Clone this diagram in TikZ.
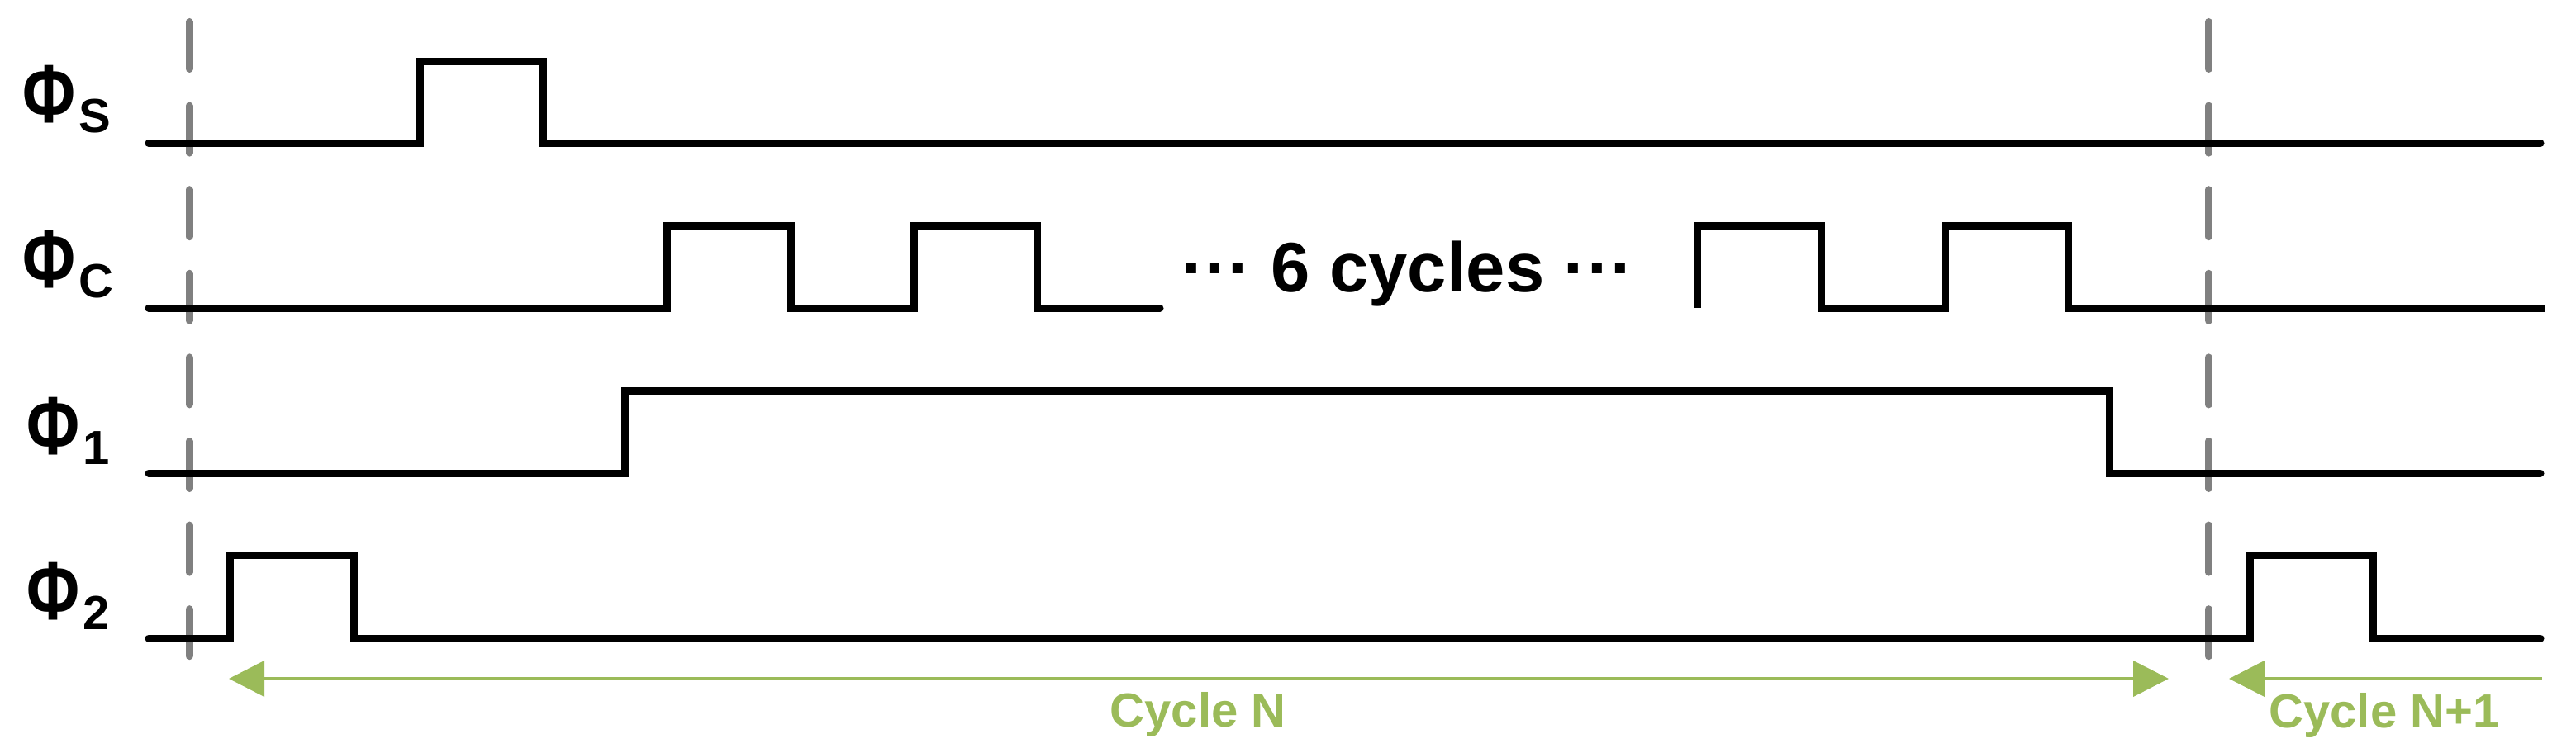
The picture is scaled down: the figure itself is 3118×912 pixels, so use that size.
\documentclass[tikz,border=0pt]{standalone}
\usepackage{fontspec}
\setmainfont{Liberation Sans}
\usetikzlibrary{arrows.meta}
\definecolor{dgray}{HTML}{808080}
\definecolor{cgreen}{HTML}{9BBB59}
\newcommand{\philabel}[1]{\fontsize{82}{90}\selectfont\bfseries \scalebox{0.95}[1.22]{\symbol{"03A6}}\kern4pt\raisebox{-12pt}{\fontsize{58}{60}\selectfont #1}}
\begin{document}
\begin{tikzpicture}[x=1pt,y=-1pt,
  wave/.style={line width=9pt, line cap=round, line join=miter},
  guide/.style={line width=9pt, draw=dgray, line cap=round, dash pattern=on 57pt off 44.6pt},
  spanarrow/.style={line width=4pt, draw=cgreen},
  lbl/.style={inner sep=0pt, anchor=base west},
  ctext/.style={inner sep=0pt, anchor=base, text=cgreen, font=\fontsize{58}{64}\selectfont\bfseries},
  mtext/.style={inner sep=0pt, anchor=base, font=\fontsize{85}{96}\selectfont\bfseries}]
\useasboundingbox (0,0) rectangle (3118,912);

% labels
\node[lbl] (ls) at (27,149) {\philabel{S}};
\node[lbl] (lc) at (27,348) {\philabel{C}};
\node[lbl] (l1) at (32,550) {\philabel{1}};
\node[lbl] (l2) at (32,750) {\philabel{2}};

% guides
\draw[guide] (229,26.5) -- (229,795);
\draw[guide] (2673,26.5) -- (2673,795);

% Phi S
\draw[wave] (180,173.5) -- (508,173.5) -- (508,74.5) -- (657,74.5) -- (657,173.5) -- (3075,173.5);
% Phi C
\draw[wave] (180,373) -- (807,373) -- (807,273.5) -- (957,273.5) -- (957,373) -- (1106,373) -- (1106,273.5) -- (1255,273.5) -- (1255,373) -- (1404,373);
\draw[wave, line cap=butt] (2054,373) -- (2054,273.5) -- (2204,273.5) -- (2204,373) -- (2354,373) -- (2354,273.5) -- (2503,273.5) -- (2503,373) -- (3080,373);
\node[mtext] (six) at (1704,353) {\symbol{"00B7}\symbol{"00B7}\symbol{"00B7} 6 cycles \symbol{"00B7}\symbol{"00B7}\symbol{"00B7}};
% Phi 1
\draw[wave] (180,573) -- (756,573) -- (756,473.5) -- (2553,473.5) -- (2553,573) -- (3075,573);
% Phi 2
\draw[wave] (180,773) -- (278.5,773) -- (278.5,672.5) -- (428.5,672.5) -- (428.5,773) -- (2723.5,773) -- (2723.5,672.5) -- (2872.5,672.5) -- (2872.5,773) -- (3075,773);

% cycle arrows
\coordinate (nL) at (277,822);
\coordinate (nR) at (2625,822);
\coordinate (mL) at (2698,822);
\coordinate (mR) at (3077,822);
\draw[spanarrow, {Triangle[length=43pt,width=43pt]}-{Triangle[length=43pt,width=43pt]}] (nL) -- (nR);
\draw[spanarrow, -{Triangle[length=43pt,width=43pt]}] (mR) -- (mL);
\node[ctext] (cn) at (1450,880) {Cycle N};
\node[ctext] (cn1) at (2886,881) {Cycle N+1};
\end{tikzpicture}
\end{document}
